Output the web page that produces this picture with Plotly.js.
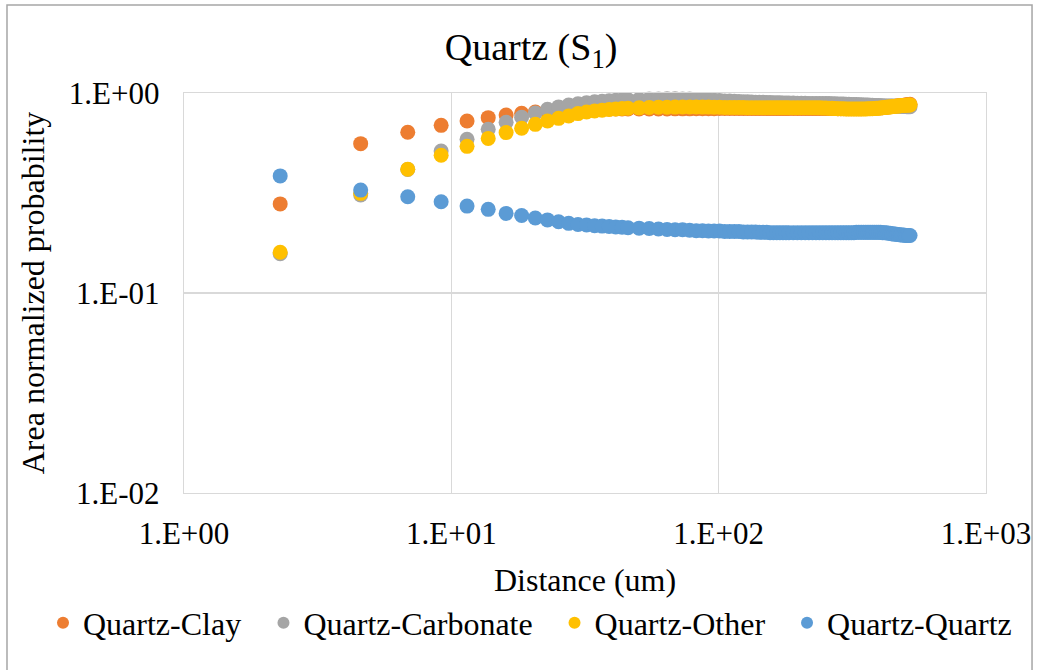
<!DOCTYPE html>
<html>
<head>
<meta charset="utf-8">
<script src="https://cdn.plot.ly/plotly-3.0.1.min.js"></script>
<style>
html,body{margin:0;padding:0;background:#fff;}
#chart{width:1040px;height:670px;}
</style>
</head>
<body>
<div id="chart"></div>
<script>
// Distance (um)
const distance = [
2.29, 4.58, 6.87, 9.16, 11.45, 13.74, 16.03, 18.32, 20.61, 22.9,
25.19, 27.48, 29.77, 32.06, 34.35, 36.64, 38.93, 41.22, 43.51, 45.8,
50.38, 54.96, 59.54, 64.12, 68.7, 73.28, 77.86, 82.44, 87.02, 91.6,
96.18, 100.76, 105.34, 109.92, 114.5, 119.08, 123.66, 128.24, 132.82, 137.4,
141.98, 146.56, 151.14, 155.72, 160.3, 164.88, 169.46, 174.04, 178.62, 183.2,
190.07, 196.94, 203.81, 210.68, 217.55, 224.42, 231.29, 238.16, 245.03, 251.9,
258.77, 265.64, 272.51, 279.38, 286.25, 293.12, 299.99, 306.86, 313.73, 320.6,
327.47, 334.34, 341.21, 348.08, 354.95, 361.82, 368.69, 375.56, 382.43, 389.3,
396.17, 403.04, 409.91, 416.78, 423.65, 430.52, 437.39, 444.26, 451.13, 458.0,
464.87, 471.74, 478.61, 485.48, 492.35, 499.22, 506.09, 512.96, 519.83
];

const quartzClay = [
0.279, 0.558, 0.636, 0.689, 0.725, 0.753, 0.776, 0.791, 0.803, 0.812,
0.818, 0.822, 0.825, 0.827, 0.829, 0.830, 0.831, 0.832, 0.832, 0.832,
0.832, 0.832, 0.832, 0.832, 0.833, 0.833, 0.833, 0.834, 0.834, 0.835,
0.835, 0.836, 0.836, 0.837, 0.837, 0.837, 0.837, 0.837, 0.837, 0.837,
0.837, 0.837, 0.837, 0.837, 0.837, 0.837, 0.837, 0.837, 0.837, 0.837,
0.837, 0.837, 0.837, 0.837, 0.837, 0.837, 0.837, 0.837, 0.837, 0.837,
0.836, 0.836, 0.836, 0.835, 0.835, 0.835, 0.835, 0.835, 0.835, 0.835,
0.835, 0.835, 0.835, 0.836, 0.836, 0.837, 0.838, 0.839, 0.840, 0.841,
0.842, 0.843, 0.845, 0.847, 0.849, 0.851, 0.853, 0.855, 0.857, 0.859,
0.861, 0.863, 0.865, 0.867, 0.869, 0.871, 0.873, 0.876, 0.879
];

const quartzCarbonate = [
0.157, 0.309, 0.415, 0.513, 0.587, 0.658, 0.714, 0.756, 0.795, 0.829,
0.852, 0.870, 0.884, 0.895, 0.903, 0.910, 0.915, 0.919, 0.922, 0.925,
0.929, 0.932, 0.934, 0.935, 0.935, 0.934, 0.932, 0.929, 0.926, 0.922,
0.919, 0.916, 0.913, 0.911, 0.909, 0.907, 0.905, 0.903, 0.901, 0.900,
0.899, 0.898, 0.897, 0.896, 0.895, 0.894, 0.893, 0.892, 0.891, 0.890,
0.890, 0.889, 0.888, 0.888, 0.887, 0.887, 0.886, 0.886, 0.886, 0.885,
0.885, 0.884, 0.883, 0.882, 0.881, 0.880, 0.879, 0.878, 0.877, 0.876,
0.875, 0.874, 0.873, 0.872, 0.871, 0.870, 0.869, 0.868, 0.867, 0.866,
0.865, 0.864, 0.863, 0.862, 0.862, 0.861, 0.861, 0.860, 0.860, 0.859,
0.859, 0.858, 0.858, 0.857, 0.856, 0.855, 0.854, 0.854, 0.853
];

const quartzOther = [
0.160, 0.315, 0.416, 0.488, 0.541, 0.593, 0.634, 0.666, 0.697, 0.725,
0.747, 0.767, 0.789, 0.804, 0.814, 0.821, 0.827, 0.832, 0.836, 0.839,
0.843, 0.846, 0.848, 0.849, 0.850, 0.851, 0.851, 0.851, 0.850, 0.850,
0.849, 0.848, 0.847, 0.847, 0.846, 0.846, 0.846, 0.845, 0.845, 0.845,
0.845, 0.845, 0.845, 0.845, 0.845, 0.845, 0.845, 0.845, 0.845, 0.845,
0.845, 0.845, 0.845, 0.845, 0.845, 0.845, 0.844, 0.843, 0.842, 0.841,
0.840, 0.838, 0.836, 0.835, 0.834, 0.833, 0.832, 0.832, 0.832, 0.832,
0.832, 0.832, 0.832, 0.832, 0.832, 0.833, 0.834, 0.835, 0.836, 0.838,
0.840, 0.842, 0.844, 0.846, 0.848, 0.850, 0.852, 0.854, 0.856, 0.858,
0.860, 0.862, 0.864, 0.866, 0.867, 0.868, 0.869, 0.870, 0.872
];

const quartzQuartz = [
0.385, 0.327, 0.303, 0.286, 0.272, 0.262, 0.250, 0.244, 0.237, 0.232,
0.227, 0.223, 0.220, 0.219, 0.217, 0.216, 0.215, 0.214, 0.213, 0.212,
0.211, 0.210, 0.209, 0.208, 0.207, 0.207, 0.206, 0.205, 0.205, 0.204,
0.204, 0.204, 0.203, 0.203, 0.203, 0.203, 0.202, 0.202, 0.202, 0.202,
0.201, 0.201, 0.201, 0.200, 0.200, 0.200, 0.200, 0.200, 0.200, 0.200,
0.200, 0.200, 0.200, 0.200, 0.200, 0.200, 0.200, 0.200, 0.200, 0.200,
0.200, 0.200, 0.200, 0.200, 0.200, 0.200, 0.200, 0.200, 0.200, 0.200,
0.201, 0.201, 0.201, 0.201, 0.201, 0.201, 0.201, 0.201, 0.201, 0.201,
0.201, 0.201, 0.200, 0.200, 0.200, 0.199, 0.199, 0.198, 0.197, 0.197,
0.196, 0.196, 0.195, 0.195, 0.195, 0.194, 0.194, 0.194, 0.194
];

const seriesNames = ['Quartz-Clay', 'Quartz-Carbonate', 'Quartz-Other', 'Quartz-Quartz'];
const seriesColors = ['#ED7D31', '#A5A5A5', '#FFC000', '#5B9BD5'];
const seriesValues = [quartzClay, quartzCarbonate, quartzOther, quartzQuartz];

const xTickVals = [1, 10, 100, 1000];
const xTickText = ['1.E+00', '1.E+01', '1.E+02', '1.E+03'];
const yTickVals = [0.01, 0.1, 1];
const yTickText = ['1.E-02', '1.E-01', '1.E+00'];

const FONT = 'Liberation Serif, Times New Roman, serif';
const legendIds = ['legend', 'legend2', 'legend3', 'legend4'];
const legendX = [-0.1758, 0.0991, 0.462, 0.7519];

const traces = seriesNames.map((name, i) => ({
  type: 'scatter',
  mode: 'markers',
  name: name,
  legend: legendIds[i],
  x: distance,
  y: seriesValues[i],
  cliponaxis: false,
  marker: {color: seriesColors[i], size: 15, line: {width: 0}}
}));

const layout = {
  width: 1040,
  height: 670,
  margin: {l: 184, r: 54, t: 93, b: 177},
  paper_bgcolor: '#ffffff',
  plot_bgcolor: '#ffffff',
  font: {family: FONT, size: 31, color: '#000000'},
  showlegend: true,
  title: {
    text: 'Quartz (S<sub>1</sub>)',
    font: {family: FONT, size: 38, color: '#000000'},
    xref: 'container', x: 0.5106, xanchor: 'center',
    yref: 'container', y: 0.931, yanchor: 'middle'
  },
  xaxis: {
    type: 'log',
    range: [0, 3],
    tickvals: xTickVals,
    ticktext: xTickText,
    ticks: '',
    automargin: false,
    ticklabelstandoff: 12,
    showgrid: true,
    gridcolor: '#d9d9d9',
    gridwidth: 1.3,
    showline: true,
    linecolor: '#d9d9d9',
    linewidth: 1.3,
    mirror: true,
    zeroline: false,
    tickfont: {family: FONT, size: 31, color: '#000000'},
    title: {text: 'Distance (um)', font: {family: FONT, size: 32, color: '#000000'}, standoff: 19}
  },
  yaxis: {
    type: 'log',
    range: [-2, 0],
    tickvals: yTickVals,
    ticktext: yTickText,
    ticks: '',
    automargin: false,
    ticklabelstandoff: 17,
    showgrid: true,
    gridcolor: '#d9d9d9',
    gridwidth: 1.3,
    showline: true,
    linecolor: '#d9d9d9',
    linewidth: 1.3,
    mirror: true,
    zeroline: false,
    tickfont: {family: FONT, size: 31, color: '#000000'},
    title: {text: 'Area normalized probability', font: {family: FONT, size: 32, color: '#000000'}, standoff: 14}
  },
  shapes: [{
    type: 'rect', xref: 'paper', yref: 'paper',
    x0: -0.2207, x1: 1.0574, y0: -0.47, y1: 1.22,
    line: {color: '#A6A6A6', width: 1.5},
    fillcolor: 'rgba(0,0,0,0)', layer: 'below'
  }]
};

legendIds.forEach((id, i) => {
  layout[id] = {
    orientation: 'h',
    xref: 'paper', x: legendX[i], xanchor: 'left',
    yref: 'paper', y: -0.325, yanchor: 'middle',
    font: {family: FONT, size: 32, color: '#000000'},
    itemsizing: 'constant',
    bgcolor: 'rgba(0,0,0,0)'
  };
});

Plotly.newPlot('chart', traces, layout, {displayModeBar: false, staticPlot: true});
</script>
</body>
</html>
